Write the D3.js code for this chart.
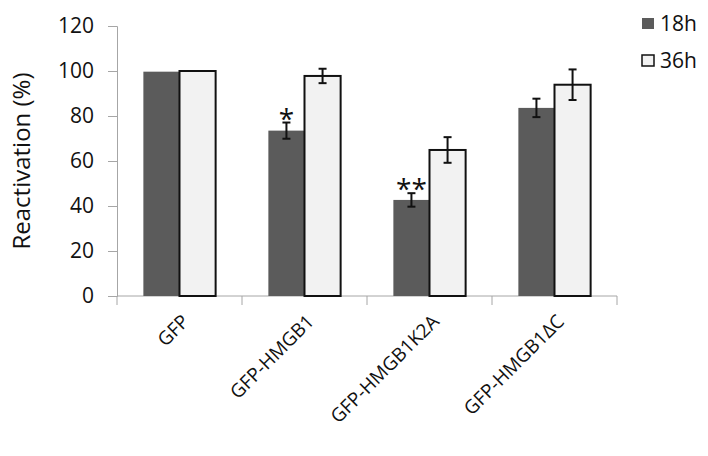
<!DOCTYPE html>
<html>
<head>
<meta charset="utf-8">
<script src="https://cdnjs.cloudflare.com/ajax/libs/d3/7.8.5/d3.min.js"></script>
<style>
  body { margin: 0; background: #fff; }
  text { font-family: "Open Sans", "Liberation Sans", sans-serif; fill: #111; }
</style>
</head>
<body>
<div id="chartDiv"></div>
<script>
	const categories = ['GFP', 'GFP-HMGB1', 'GFP-HMGB1K2A', 'GFP-HMGB1\u0394C'];
	const seriesNames = ['18h', '36h'];
	const values18 = [99.7, 73.5, 42.7, 83.6];
	const values36 = [100, 97.8, 64.9, 93.9];
	const err18 = [0, 3.6, 3.0, 4.1];
	const err36 = [0, 3.2, 5.7, 6.8];
	const stars18 = ['', '*', '**', ''];
	const yTicks = [0, 20, 40, 60, 80, 100, 120];

	const width = 708, height = 456;
	const margin = { left: 117, right: 91, top: 26, bottom: 160 };
	const innerW = 617 - margin.left;
	const innerH = 296 - margin.top;
	const colors = { '18h': '#5b5b5b', '36h': '#f2f2f2' };

	const svg = d3.select('#chartDiv').append('svg')
		.attr('width', width).attr('height', height);
	const g = svg.append('g').attr('transform', `translate(${margin.left},${margin.top})`);

	//scales
	const xScale = d3.scaleBand().domain(categories).range([0, innerW]).paddingInner(0).paddingOuter(0);
	const xSub = d3.scaleBand().domain(seriesNames).range([0, xScale.bandwidth()]).paddingOuter(0.73).paddingInner(0);
	const yScale = d3.scaleLinear().domain([0, 120]).range([innerH, 0]);

	//y axis
	const yAxisG = g.append('g')
		.call(d3.axisLeft(yScale).tickValues(yTicks).tickSize(9).tickPadding(14));
	yAxisG.select('.domain').attr('stroke', '#a6a6a6');
	yAxisG.selectAll('.tick line').attr('stroke', '#a6a6a6');
	yAxisG.selectAll('.tick text').style('font-size', '21px').attr('fill', '#111');

	//x axis with ticks between categories
	const xAxisG = g.append('g').attr('transform', `translate(0,${innerH})`);
	xAxisG.append('line').attr('x1', 0).attr('x2', innerW).attr('stroke', '#a6a6a6');
	xAxisG.selectAll('.sep')
		.data(categories.concat(['end']))
		.enter().append('line')
		.attr('x1', (d, i) => i * xScale.step())
		.attr('x2', (d, i) => i * xScale.step())
		.attr('y1', 0).attr('y2', 9)
		.attr('stroke', '#a6a6a6');
	//category labels, slanted -45deg
	xAxisG.selectAll('.xlabel')
		.data(categories)
		.enter().append('text')
		.attr('class', 'xlabel')
		.attr('transform', d => `translate(${xScale(d) + xScale.bandwidth() / 2 + 6},22) rotate(-45)`)
		.attr('text-anchor', 'end')
		.attr('dy', '0.35em')
		.style('font-size', '19px')
		.text(d => d);

	//y axis label
	g.append('text')
		.attr('transform', `translate(${22 - margin.left},${innerH / 2}) rotate(-90)`)
		.attr('text-anchor', 'middle')
		.attr('dy', '0.35em')
		.style('font-size', '24px')
		.text('Reactivation (%)');

	//bars
	const rows = categories.map((c, i) => ({
		cat: c,
		items: [
			{ key: '18h', v: values18[i], e: err18[i], star: stars18[i] },
			{ key: '36h', v: values36[i], e: err36[i], star: '' }
		]
	}));

	const groups = g.selectAll('.grp').data(rows).enter().append('g')
		.attr('transform', d => `translate(${xScale(d.cat)},0)`);

	groups.selectAll('rect').data(d => d.items).enter().append('rect')
		.attr('x', d => xSub(d.key))
		.attr('y', d => yScale(d.v))
		.attr('width', xSub.bandwidth())
		.attr('height', d => innerH - yScale(d.v))
		.attr('fill', d => colors[d.key])
		.attr('stroke', d => d.key === '36h' ? '#111' : 'none')
		.attr('stroke-width', 2);

	//error bars
	const eb = groups.selectAll('.err').data(d => d.items.filter(it => it.e > 0)).enter().append('g')
		.attr('stroke', '#111').attr('stroke-width', 2);
	const cx = d => xSub(d.key) + xSub.bandwidth() / 2;
	eb.append('line').attr('x1', cx).attr('x2', cx)
		.attr('y1', d => yScale(d.v + d.e)).attr('y2', d => yScale(d.v - d.e));
	eb.append('line').attr('x1', d => cx(d) - 4).attr('x2', d => cx(d) + 4)
		.attr('y1', d => yScale(d.v + d.e)).attr('y2', d => yScale(d.v + d.e));
	eb.append('line').attr('x1', d => cx(d) - 4).attr('x2', d => cx(d) + 4)
		.attr('y1', d => yScale(d.v - d.e)).attr('y2', d => yScale(d.v - d.e));

	//significance stars
	groups.selectAll('.star').data(d => d.items.filter(it => it.star)).enter().append('text')
		.attr('x', cx)
		.attr('y', d => yScale(d.v + d.e) + 6)
		.attr('text-anchor', 'middle')
		.style('font-size', '28px')
		.text(d => d.star);

	//legend
	const legend = svg.append('g').attr('transform', 'translate(642,18)');
	const li = legend.selectAll('g').data(seriesNames).enter().append('g')
		.attr('transform', (d, i) => `translate(0,${i * 37})`);
	li.append('rect').attr('width', 12).attr('height', 11)
		.attr('fill', d => colors[d])
		.attr('stroke', d => d === '36h' ? '#111' : 'none')
		.attr('stroke-width', 1.5);
	li.append('text').attr('x', 18).attr('y', 6).attr('dy', '0.35em')
		.style('font-size', '21px').text(d => d);
</script>
</body>
</html>
